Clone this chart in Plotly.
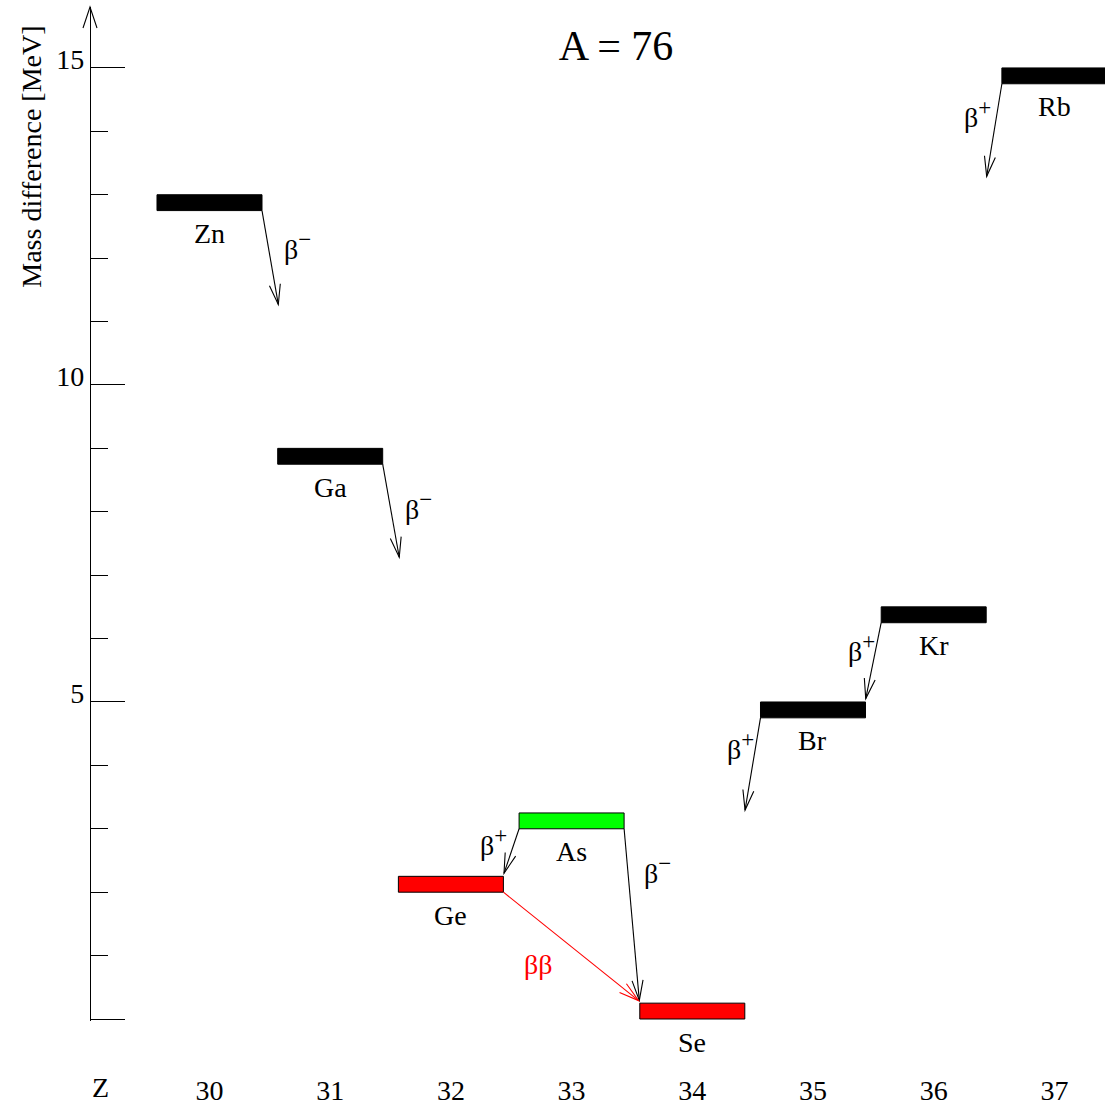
import math
import plotly.graph_objects as go

# Isobar chain A = 76: ground-state mass differences relative to 76Se
elements = ["Zn", "Ga", "Ge", "As", "Se", "Br", "Kr", "Rb"]
z_values = [30, 31, 32, 33, 34, 35, 36, 37]
levels_mev = [12.75, 8.75, 2.0, 3.0, 0.0, 4.75, 6.25, 14.75]
level_colors = ["black", "black", "red", "#00ff00", "red", "black", "black", "black"]

# Decay transitions: parent nuclide, decay mode, arrow tip (Z, MeV)
decay_parent = ["Zn", "Ga", "Rb", "Kr", "Br", "As", "As", "Ge"]
decay_mode = ["beta-", "beta-", "beta+", "beta+", "beta+", "beta+", "beta-", "bb"]
tip_z = [30.570, 31.572, 36.439, 35.437, 34.437, 32.440, 33.561, 33.555]
tip_mev = [11.27, 7.283, 13.29, 5.053, 3.295, 2.298, 0.294, 0.290]

z_ticks = [30, 31, 32, 33, 34, 35, 36, 37]
mev_ticks = [0, 5, 10, 15]
mev_tick_text = ["", "5", "10", "15"]

# ---- geometry / style ----
W, H = 1105, 1106
M_T, M_B = 7, 83
X_RANGE = [28.2643, 37.4193]
Y_RANGE = [-0.0315, 15.961]
PX_X = W / (X_RANGE[1] - X_RANGE[0])
PX_Y = (H - M_T - M_B) / (Y_RANGE[1] - Y_RANGE[0])
AXIS_X = 90 / W
BAR_W = 0.87
BAR_H = 0.25
FONT = "Liberation Serif"
HEAD_LEN, HEAD_HALF = 20, 5.5
SUP = "<sup><span style='font-size:23px'>{}</span></sup>"

# label placement for each transition: (anchor, xshift, yshift) around arrow midpoint
label_place = [
    ("left", 12, 12),
    ("left", 12, 5),
    ("right", -1, 16),
    ("right", 4, 13),
    ("right", 3, 18),
    ("right", -3, 9),
    ("left", 10, 45),
    ("center", -32, -18),
]

level_of = dict(zip(elements, levels_mev))
z_of = dict(zip(elements, z_values))

fig = go.Figure()

# energy levels as thin floating bars
fig.add_trace(go.Bar(
    x=z_values, y=[BAR_H] * len(z_values), base=levels_mev, width=BAR_W,
    marker=dict(color=level_colors, line=dict(color="black", width=1)),
    hoverinfo="skip", showlegend=False,
))

shapes = []
annotations = []

def head_path(dx_px, dy_px):
    n = math.hypot(dx_px, dy_px)
    ux, uy = dx_px / n, dy_px / n
    px, py = -uy, ux
    a = (-HEAD_LEN * ux + HEAD_HALF * px, -HEAD_LEN * uy + HEAD_HALF * py)
    b = (-HEAD_LEN * ux - HEAD_HALF * px, -HEAD_LEN * uy - HEAD_HALF * py)
    return f"M {a[0]:.2f},{a[1]:.2f} L 0,0 L {b[0]:.2f},{b[1]:.2f}"

for parent, mode, tz, tm, place in zip(decay_parent, decay_mode, tip_z, tip_mev, label_place):
    z0 = z_of[parent] + (-BAR_W / 2 if mode == "beta+" else BAR_W / 2)
    m0 = level_of[parent]
    color = "red" if mode == "bb" else "black"
    fig.add_trace(go.Scatter(
        x=[z0, tz], y=[m0, tm], mode="lines",
        line=dict(color=color, width=1.1),
        hoverinfo="skip", showlegend=False,
    ))
    shapes.append(dict(
        type="path", xref="x", yref="y", xsizemode="pixel", ysizemode="pixel",
        xanchor=tz, yanchor=tm,
        path=head_path((tz - z0) * PX_X, (tm - m0) * PX_Y),
        line=dict(color=color, width=1.1),
    ))
    text = {"beta-": "β" + SUP.format("−"), "beta+": "β" + SUP.format("+"), "bb": "ββ"}[mode]
    anchor, xs, ys = place
    annotations.append(dict(
        x=(z0 + tz) / 2, y=(m0 + tm) / 2, xref="x", yref="y",
        text=text, showarrow=False, xanchor=anchor, yanchor="middle",
        xshift=xs, yshift=ys,
        font=dict(family=FONT, size=28, color=color),
    ))

# nuclide names below their levels
for name, z, m in zip(elements, z_values, levels_mev):
    annotations.append(dict(
        x=z, y=m, xref="x", yref="y", text=name, showarrow=False,
        xanchor="center", yanchor="middle", yshift=-23,
        font=dict(family=FONT, size=28, color="black"),
    ))

# arrowhead on top of the energy axis
shapes.append(dict(
    type="path", xref="paper", yref="paper", xsizemode="pixel", ysizemode="pixel",
    xanchor=AXIS_X, yanchor=1, path="M -7,-21 L 0,0 L 7,-21",
    line=dict(color="black", width=1.1),
))

PLOT_H = H - M_T - M_B
annotations.append(dict(
    x=32 / W, y=(H - M_B - 157) / PLOT_H, xref="paper", yref="paper",
    text="Mass difference [MeV]", textangle=-90, showarrow=False,
    xanchor="center", yanchor="middle",
    font=dict(family=FONT, size=28, color="black"),
))
annotations.append(dict(
    x=100 / W, y=-(1090 - (H - M_B)) / PLOT_H, xref="paper", yref="paper",
    text="Z", showarrow=False, xanchor="center", yanchor="middle",
    font=dict(family=FONT, size=28, color="black"),
))

fig.update_layout(
    width=W, height=H,
    margin=dict(l=0, r=0, t=M_T, b=M_B),
    paper_bgcolor="white", plot_bgcolor="white",
    font=dict(family=FONT, color="black"),
    title=dict(text="A = 76", x=616 / W, xanchor="center", y=1 - 45 / H,
               yanchor="middle", yref="container",
               font=dict(family=FONT, size=42, color="black")),
    xaxis=dict(
        range=X_RANGE, showline=False, showgrid=False, zeroline=False,
        ticks="", tickmode="array", tickvals=z_ticks,
        ticktext=[str(z) for z in z_ticks], ticklabelstandoff=50,
        tickfont=dict(family=FONT, size=28, color="black"),
    ),
    yaxis=dict(
        range=Y_RANGE, anchor="free", position=AXIS_X,
        showline=True, linecolor="black", linewidth=1.1,
        showgrid=False, zeroline=False,
        ticks="inside", ticklen=34, tickwidth=1.1, tickcolor="black",
        tickmode="array", tickvals=mev_ticks, ticktext=mev_tick_text,
        minor=dict(ticks="inside", ticklen=17, tickwidth=1.1, tickcolor="black",
                   tickmode="linear", tick0=0, dtick=1, showgrid=False),
        ticklabelshift=-9, ticklabelstandoff=0,
        tickfont=dict(family=FONT, size=28, color="black"),
    ),
    shapes=shapes,
    annotations=annotations,
    showlegend=False,
)

fig.write_html("out.html")
